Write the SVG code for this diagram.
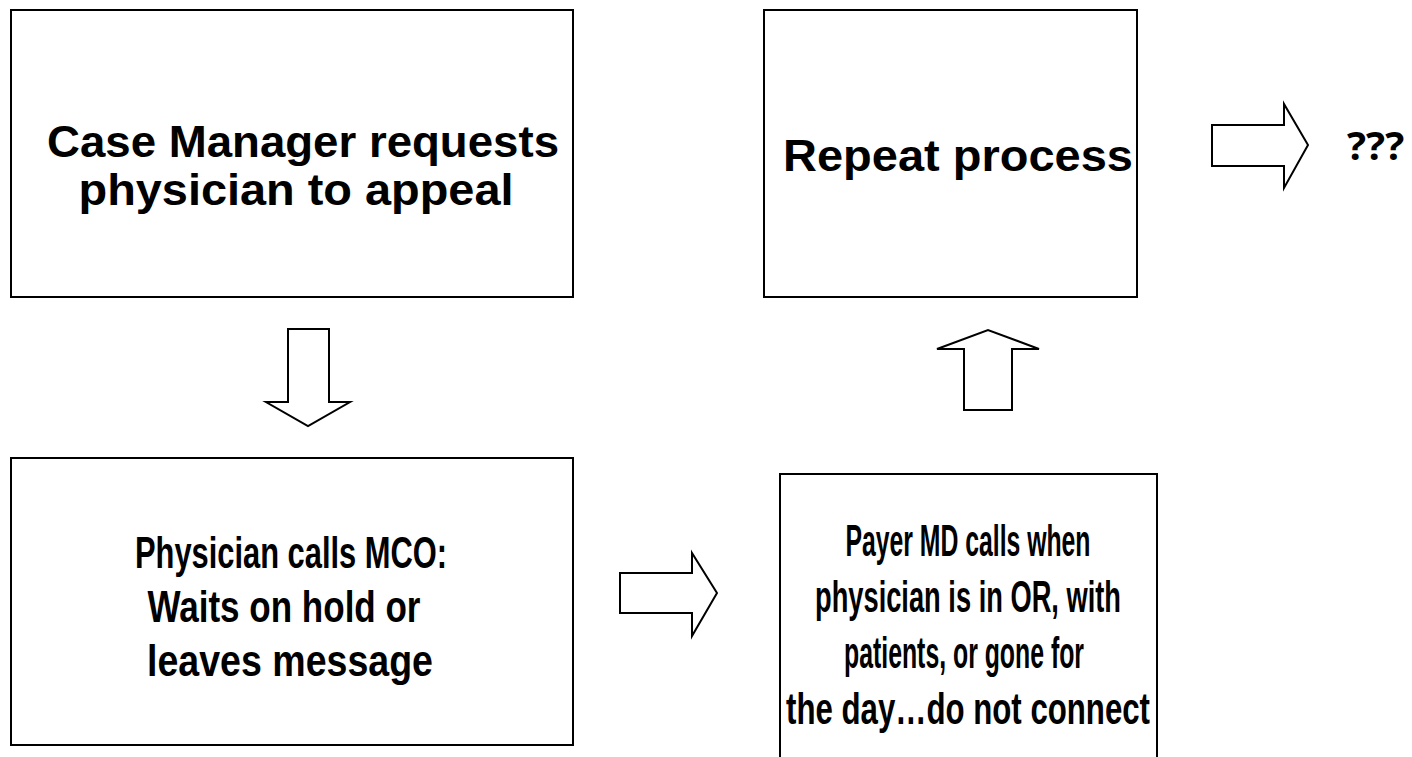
<svg xmlns="http://www.w3.org/2000/svg" width="1412" height="757" viewBox="0 0 1412 757">
<style>
.box{fill:#fff;stroke:#000;stroke-width:2}
.arr{fill:#fff;stroke:#000;stroke-width:2;stroke-linejoin:miter}
.t{font-family:"Liberation Sans",Arial,sans-serif;font-weight:bold;font-size:45px;fill:#000;text-anchor:middle}
.q{font-family:"Open Sans","Liberation Sans",sans-serif;font-weight:bold;font-size:40px;fill:#000}
</style>
<rect width="1412" height="757" fill="#fff"/>
<g id="n1">
<rect class="box" x="11" y="10" width="562" height="287"/>
<text class="t" x="303" y="157" textLength="512" lengthAdjust="spacingAndGlyphs">Case Manager requests</text>
<text class="t" x="296" y="205" textLength="435" lengthAdjust="spacingAndGlyphs">physician to appeal</text>
</g>
<g id="n2">
<rect class="box" x="764" y="10" width="373" height="287"/>
<text class="t" x="958" y="171" textLength="350" lengthAdjust="spacingAndGlyphs">Repeat process</text>
</g>
<g id="n3">
<rect class="box" x="11" y="458" width="562" height="287"/>
<text class="t" x="291" y="568" textLength="312" lengthAdjust="spacingAndGlyphs">Physician calls MCO:</text>
<text class="t" x="284" y="622" textLength="273" lengthAdjust="spacingAndGlyphs">Waits on hold or</text>
<text class="t" x="290" y="676" textLength="286" lengthAdjust="spacingAndGlyphs">leaves message</text>
</g>
<g id="n4">
<rect class="box" x="780" y="474" width="377" height="300"/>
<text class="t" x="968" y="556" textLength="245" lengthAdjust="spacingAndGlyphs">Payer MD calls when</text>
<text class="t" x="968" y="612" textLength="306" lengthAdjust="spacingAndGlyphs">physician is in OR, with</text>
<text class="t" x="964" y="668" textLength="240" lengthAdjust="spacingAndGlyphs">patients, or gone for</text>
<text class="t" x="968" y="724" textLength="364" lengthAdjust="spacingAndGlyphs">the day…do not connect</text>
</g>
<g id="n5">
<text class="q" x="1347" y="160">???</text>
</g>
<g id="connectors">
<polygon class="arr" points="288,329 329,329 329,402 350,402 308,426 266,402 288,402"/>
<polygon class="arr" points="620,573 692,573 692,553 717,593 692,636 692,613 620,613"/>
<polygon class="arr" points="964,410 1012,410 1012,349 1039,349 988,330 937,349 964,349"/>
<polygon class="arr" points="1212,125 1284,125 1284,104 1308,145 1284,188 1284,166 1212,166"/>
</g>
</svg>
